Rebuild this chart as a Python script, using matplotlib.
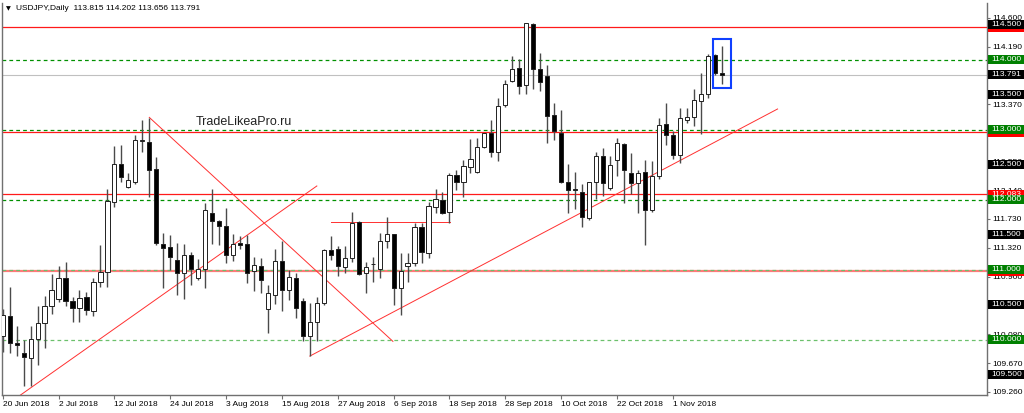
import numpy as np
import matplotlib
matplotlib.use("Agg")
import matplotlib.pyplot as plt
from matplotlib.patches import Rectangle
import matplotlib.transforms as mtransforms

# daily OHLC, USDJPY 20 Jun 2018 .. 12 Nov 2018
opens = [110.05, 110.34, 109.95, 109.82, 109.74, 110.02, 110.24, 110.48, 110.59, 110.89,
         110.56, 110.45, 110.61, 110.42, 110.83, 110.97, 111.97, 112.52, 112.18, 112.26,
         112.84, 112.83, 112.44, 111.37, 111.33, 111.14, 110.95, 111.21, 110.88, 111.01,
         111.81, 111.70, 111.63, 111.21, 111.39, 111.37, 110.98, 111.05, 110.44, 110.64,
         111.13, 110.72, 110.88, 110.56, 110.05, 110.26, 110.53, 111.28, 111.30, 111.04,
         111.17, 111.69, 110.95, 111.08, 111.01, 111.41, 111.51, 110.74, 111.06, 111.10,
         111.62, 111.24, 111.90, 112.00, 111.83, 112.35, 112.25, 112.47, 112.40, 112.75,
         112.96, 112.69, 113.36, 113.70, 113.88, 113.64, 114.52, 113.87, 113.77, 113.21,
         112.95, 112.26, 112.16, 112.12, 111.74, 112.25, 112.63, 112.17, 112.57, 112.80,
         112.39, 112.24, 112.40, 111.85, 112.34, 113.09, 112.93, 112.64, 113.14, 113.18,
         113.42, 113.51, 114.07, 113.815]
highs = [110.44, 110.75, 110.20, 110.00, 110.20, 110.48, 110.63, 110.94, 111.06, 111.12,
         110.62, 110.71, 110.69, 110.88, 111.36, 112.16, 112.77, 112.79, 112.38, 112.93,
         113.14, 113.17, 112.62, 111.53, 111.50, 111.39, 111.37, 111.25, 111.15, 111.95,
         112.15, 111.71, 111.88, 111.51, 111.49, 111.50, 111.18, 111.17, 110.79, 111.30,
         111.42, 111.00, 110.96, 110.60, 110.53, 110.61, 111.30, 111.48, 111.34, 111.34,
         111.83, 111.70, 111.12, 111.18, 111.53, 111.75, 111.52, 111.24, 111.24, 111.67,
         111.67, 111.97, 112.16, 112.12, 112.38, 112.43, 112.57, 112.87, 112.88, 112.96,
         113.14, 113.45, 113.71, 114.05, 114.01, 114.53, 114.53, 114.10, 113.93, 113.38,
         113.29, 112.52, 112.40, 112.23, 112.25, 112.69, 112.74, 112.63, 112.88, 112.82,
         112.67, 112.43, 112.57, 112.56, 113.17, 113.38, 112.98, 113.32, 113.32, 113.59,
         113.81, 114.09, 114.09, 114.202]
lows = [109.83, 109.82, 109.77, 109.34, 109.34, 109.64, 109.89, 110.37, 110.54, 110.49,
        110.26, 110.25, 110.36, 110.34, 110.76, 110.75, 111.90, 112.26, 112.17, 112.23,
        112.69, 112.04, 111.36, 110.74, 111.00, 110.64, 110.58, 110.79, 110.86, 110.74,
        111.37, 111.36, 111.10, 111.13, 111.30, 110.82, 110.70, 110.67, 110.10, 110.52,
        110.42, 110.57, 110.31, 109.98, 109.77, 109.99, 110.50, 111.14, 110.91, 110.96,
        111.12, 110.93, 110.67, 110.83, 110.88, 111.31, 110.50, 110.36, 110.83, 111.05,
        111.10, 111.17, 111.81, 111.80, 111.67, 112.14, 112.04, 112.38, 112.38, 112.74,
        112.62, 112.56, 113.33, 113.68, 113.52, 113.52, 113.59, 113.55, 112.81, 112.86,
        112.24, 111.82, 111.87, 111.61, 111.71, 112.02, 112.05, 112.14, 112.34, 111.95,
        112.09, 111.81, 111.36, 111.83, 112.30, 112.79, 112.58, 112.53, 113.10, 113.05,
        112.94, 113.45, 113.79, 113.656]
closes = [110.35, 109.96, 109.93, 109.75, 110.02, 110.24, 110.48, 110.72, 110.89, 110.56,
          110.45, 110.60, 110.43, 110.83, 110.97, 111.99, 112.52, 112.33, 112.28, 112.86,
          112.85, 112.43, 111.38, 111.32, 111.19, 110.95, 111.21, 111.01, 111.01, 111.85,
          111.70, 111.63, 111.22, 111.37, 111.36, 110.95, 111.07, 110.86, 110.67, 111.13,
          110.72, 110.90, 110.45, 110.05, 110.26, 110.53, 111.28, 111.21, 111.06, 111.17,
          111.67, 110.94, 111.04, 111.09, 111.41, 111.51, 110.74, 110.98, 111.10, 111.62,
          111.25, 111.91, 112.02, 111.82, 112.36, 112.25, 112.49, 112.58, 112.76, 112.95,
          112.69, 113.34, 113.66, 113.87, 113.63, 114.53, 113.87, 113.68, 113.20, 112.98,
          112.25, 112.14, 112.14, 111.76, 112.25, 112.63, 112.24, 112.50, 112.81, 112.43,
          112.24, 112.39, 111.85, 112.34, 113.07, 112.93, 112.64, 113.17, 113.18, 113.43,
          113.52, 114.06, 113.81, 113.791]

date_ticks = [0, 8, 16, 24, 32, 40, 48, 56, 64, 72, 80, 88, 96]
date_labels = ["20 Jun 2018", "2 Jul 2018", "12 Jul 2018", "24 Jul 2018", "3 Aug 2018",
               "15 Aug 2018", "27 Aug 2018", "6 Sep 2018", "18 Sep 2018", "28 Sep 2018",
               "10 Oct 2018", "22 Oct 2018", "1 Nov 2018"]

# scale labels that are not covered by a price tag
price_ticks = [114.60, 114.19, 113.37, 112.55, 112.14, 111.73,
               111.32, 110.90, 110.08, 109.67, 109.26]

green_levels = [114.0, 113.0, 112.0, 111.0, 110.0]
black_levels = [114.5, 113.5, 112.5, 111.5, 110.5, 109.5]
red_levels = [114.467, 112.97, 112.083, 110.98]
bid_price = 113.791

# trend lines: (bar index, price) pairs
trend_lines = [
    [(2.5, 109.21), (45.0, 112.20)],
    [(21.0, 113.18), (55.9, 109.98)],
    [(44.0, 109.77), (111.0, 113.30)],
    [(47.0, 111.69), (64.1, 111.69)],
]
box_x = (101.8, 104.3)
box_y = (113.60, 114.30)

plt.rcParams["font.family"] = ["Liberation Sans", "DejaVu Sans"]

fig = plt.figure(figsize=(10.24, 4.13), dpi=100)
ax = fig.add_axes([2 / 1024, 18 / 413, 985 / 1024, 392 / 413])
ax.set_xlim(-0.1, 141.0)
ax.set_ylim(109.214, 114.814)

# horizontal levels
ax.axhline(bid_price, color="#c0c0c0", lw=0.8, zorder=1)
for lvl in red_levels:
    if lvl < 111.5:
        ax.axhline(lvl, color="#ff7a7a", lw=1.6, zorder=1)
    else:
        ax.axhline(lvl, color="#ff1a1a", lw=0.9, zorder=1)
for lvl in green_levels:
    c = "#009000" if lvl > 111.5 else "#6cc06c"
    ax.axhline(lvl, color=c, lw=0.9, ls=(0, (3, 2.5)), zorder=1)

for line in trend_lines:
    xs = [p[0] for p in line]
    ys = [p[1] for p in line]
    ax.plot(xs, ys, color="#ff3030", lw=0.7, zorder=1.5)

# candles
x = np.arange(len(opens))
o = np.array(opens)
c = np.array(closes)
ax.vlines(x, lows, highs, color="#4a4a4a", lw=1.0, zorder=2)
bottoms = np.minimum(o, c)
heights = np.maximum(np.abs(c - o), 0.012)
body_colors = ["white" if cc >= oo else "black" for oo, cc in zip(o, c)]
ax.bar(x, heights, bottom=bottoms, width=0.6, color=body_colors,
       edgecolor="#202020", linewidth=0.7, zorder=3)

ax.add_patch(Rectangle((box_x[0], box_y[0]), box_x[1] - box_x[0], box_y[1] - box_y[0],
                       fill=False, edgecolor="#1040ff", lw=1.5, zorder=4))

ax.text(27.7, 113.11, "TradeLikeaPro.ru", fontsize=9, color="#222222",
        va="center", ha="left")

# axes styling
for s in ["left", "right", "bottom"]:
    ax.spines[s].set_color("#707070")
    ax.spines[s].set_linewidth(1.0)
ax.spines["top"].set_visible(False)

ax.set_xticks(date_ticks)
ax.set_xticklabels(date_labels, fontsize=6, ha="left")
ax.tick_params(axis="x", length=3, width=0.8, color="#707070", pad=1.5)
ax.yaxis.tick_right()
ax.set_yticks(price_ticks)
ax.set_yticklabels([f"{p:.3f}" for p in price_ticks], fontsize=6)
ax.tick_params(axis="y", length=2.5, width=0.8, color="#707070", pad=1.5)

# price tags on the right scale
trans = mtransforms.blended_transform_factory(ax.transAxes, ax.transData)
half = 0.064


def tag(price, face, label=True):
    ax.add_patch(Rectangle((1.0012, price - half), 0.04, 2 * half, transform=trans,
                           facecolor=face, edgecolor="none", clip_on=False, zorder=5))
    if label:
        ax.text(1.004, price, f"{price:.3f}", transform=trans, color="white",
                fontsize=6, va="center", ha="left", clip_on=False, zorder=6)


tag(red_levels[0], "#ff0000", False)
tag(red_levels[1], "#ff0000", False)
tag(red_levels[3], "#ff0000", False)
tag(red_levels[2], "#ff0000")
for lvl in green_levels:
    tag(lvl, "#008000")
for lvl in black_levels:
    tag(lvl, "black")
tag(bid_price, "black")

fig.text(6 / 1024, 1 - 9 / 413, "\u25bc", fontsize=4.5, family="DejaVu Sans",
         va="center", ha="left", color="black")
fig.text(16 / 1024, 1 - 9 / 413, "USDJPY,Daily  113.815 114.202 113.656 113.791",
         fontsize=6, va="center", ha="left", color="black")

fig.savefig("out.png", dpi=100)
